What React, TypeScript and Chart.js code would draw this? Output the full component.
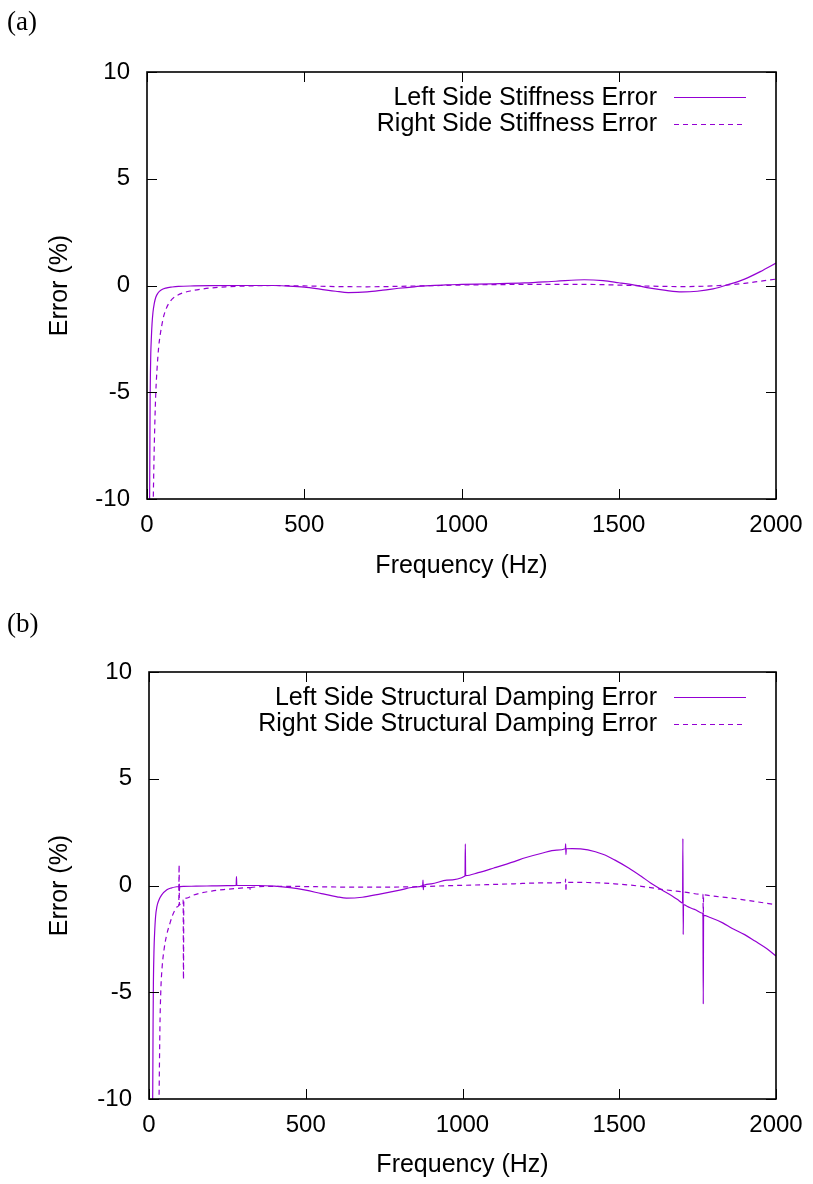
import React, { useEffect, useRef } from "react";
import { Chart, registerables } from "chart.js";

Chart.register(...registerables);

const PURPLE = "#9400d3";

// ---------- Panel (a): stiffness error ----------
const freqLeftStiff = [8, 9, 10, 11, 12, 14, 16, 19, 23, 28, 35, 45, 60, 80, 100, 150, 200, 300, 400, 450, 500, 550, 600, 640, 700, 750, 800, 850, 900, 950, 1000, 1100, 1200, 1300, 1390, 1450, 1500, 1550, 1600, 1650, 1700, 1750, 1800, 1850, 1900, 1950, 2000];
const errLeftStiff = [-11, -8, -5.2, -4.0, -3.2, -2.4, -1.8, -1.25, -0.85, -0.55, -0.35, -0.21, -0.12, -0.07, -0.04, -0.02, -0.01, 0.0, 0.0, -0.03, -0.08, -0.17, -0.27, -0.33, -0.3, -0.22, -0.13, -0.06, -0.01, 0.03, 0.05, 0.08, 0.12, 0.2, 0.27, 0.23, 0.13, 0.02, -0.12, -0.23, -0.3, -0.27, -0.16, 0.05, 0.3, 0.65, 1.05];

const freqRightStiff = [18, 20, 22, 25, 28, 32, 37, 42, 46, 52, 62, 75, 94, 120, 140, 168, 200, 250, 300, 350, 400, 500, 600, 700, 800, 900, 1000, 1100, 1200, 1300, 1400, 1500, 1600, 1700, 1800, 1850, 1900, 1950, 2000];
const errRightStiff = [-12, -10, -8.3, -6.4, -5.0, -3.9, -2.9, -2.3, -1.95, -1.5, -1.05, -0.72, -0.48, -0.32, -0.25, -0.18, -0.12, -0.06, -0.03, -0.01, 0.0, -0.02, -0.05, -0.06, -0.04, -0.01, 0.02, 0.04, 0.05, 0.05, 0.05, 0.02, -0.03, -0.05, -0.02, 0.03, 0.1, 0.2, 0.3];

// ---------- Panel (b): structural damping error ----------
const freqLeftDamp = [10, 11, 12, 13, 14, 16, 18, 21, 25, 32, 40, 57, 70, 88, 94, 95, 96, 97, 98, 110, 150, 200, 250, 278, 279, 280, 300, 350, 400, 450, 500, 550, 600, 630, 680, 740, 800, 850, 873, 874, 875, 876, 900, 950, 1008, 1009, 1010, 1050, 1100, 1165, 1200, 1250, 1300, 1328, 1329, 1330, 1331, 1350, 1400, 1450, 1485, 1530, 1571, 1600, 1635, 1670, 1690, 1702, 1703, 1704, 1705, 1720, 1740, 1766, 1767, 1768, 1769, 1790, 1830, 1859, 1900, 1933, 1970, 2000];
const errLeftDamp = [-13, -11, -9.5, -6.5, -4.6, -3.0, -2.2, -1.45, -1.0, -0.67, -0.45, -0.2, -0.12, -0.06, -0.05, -0.05, 0.05, -0.25, -0.05, -0.04, -0.03, -0.02, -0.01, 0, 0.42, 0, 0, 0, -0.03, -0.1, -0.22, -0.38, -0.53, -0.59, -0.55, -0.39, -0.22, -0.07, 0, 0.25, -0.2, 0.01, 0.08, 0.25, 0.44, 1.95, 0.46, 0.6, 0.82, 1.12, 1.3, 1.5, 1.66, 1.72, 1.95, 1.45, 1.72, 1.73, 1.67, 1.45, 1.2, 0.82, 0.42, 0.12, -0.2, -0.5, -0.7, -0.82, 2.2, -2.3, -0.9, -1.0, -1.12, -1.3, -1.35, -5.55, -1.4, -1.5, -1.75, -2.0, -2.3, -2.6, -2.95, -3.3];

const freqRightDamp = [28, 30, 32, 35, 38, 42, 48, 55, 67, 75, 83, 90, 95, 96, 97, 100, 105, 109, 110, 111, 120, 140, 163, 200, 238, 280, 322, 323, 324, 398, 450, 500, 600, 700, 800, 874, 950, 1009, 1100, 1165, 1250, 1328, 1329, 1330, 1331, 1400, 1485, 1571, 1635, 1704, 1766, 1767, 1768, 1769, 1800, 1859, 1933, 2000];
const errRightDamp = [-14, -12, -10, -6.5, -4.8, -3.8, -3.0, -2.4, -1.76, -1.4, -1.14, -1.0, -0.92, 0.97, -0.92, -0.85, -0.75, -0.68, -4.4, -0.66, -0.59, -0.46, -0.36, -0.26, -0.19, -0.14, -0.1, -0.25, -0.1, -0.04, -0.04, -0.05, -0.07, -0.08, -0.07, -0.05, -0.01, 0.01, 0.05, 0.08, 0.12, 0.15, 0.3, -0.28, 0.15, 0.14, 0.08, -0.04, -0.18, -0.3, -0.42, -0.43, -1.45, -0.44, -0.5, -0.59, -0.75, -0.9];

// ---------- Axis ticks ----------
const X_MIN = 0, X_MAX = 2000, X_STEP = 500;
const Y_MIN = -10, Y_MAX = 10, Y_STEP = 5;

const SANS = "'Liberation Sans', Arial, Helvetica, sans-serif";

const toPoints = (xs: number[], ys: number[]) => xs.map((x, i) => ({ x, y: ys[i] }));

const framePlugin = {
  id: "gnuFrame",
  afterDatasetsDraw(chart: any) {
    const { ctx, chartArea: a, scales } = chart;
    const xs = scales.x, ys = scales.y;
    ctx.save();
    ctx.strokeStyle = "#000";
    ctx.lineWidth = 1;
    const TL = 10;
    ctx.beginPath();
    xs.ticks.forEach((t: any) => {
      const px = Math.round(xs.getPixelForValue(t.value)) + 0.5;
      ctx.moveTo(px, a.bottom); ctx.lineTo(px, a.bottom - TL);
      ctx.moveTo(px, a.top); ctx.lineTo(px, a.top + TL);
    });
    ys.ticks.forEach((t: any) => {
      const py = Math.round(ys.getPixelForValue(t.value)) + 0.5;
      ctx.moveTo(a.left, py); ctx.lineTo(a.left + TL, py);
      ctx.moveTo(a.right, py); ctx.lineTo(a.right - TL, py);
    });
    ctx.stroke();
    ctx.lineWidth = 1.6;
    ctx.strokeRect(a.left, a.top, a.right - a.left, a.bottom - a.top);

    // in-plot legend (top right)
    ctx.font = `25px ${SANS}`;
    ctx.fillStyle = "#000";
    ctx.textAlign = "right";
    ctx.textBaseline = "middle";
    chart.data.datasets.forEach((ds: any, i: number) => {
      const y = a.top + 25 + i * 26.5;
      ctx.fillText(ds.label, a.right - 119, y + 1);
      ctx.save();
      ctx.strokeStyle = ds.borderColor;
      ctx.lineWidth = ds.borderWidth;
      ctx.setLineDash(ds.borderDash || []);
      ctx.beginPath();
      ctx.moveTo(a.right - 102, Math.round(y) + 0.5);
      ctx.lineTo(a.right - 30, Math.round(y) + 0.5);
      ctx.stroke();
      ctx.restore();
    });
    ctx.restore();
  },
};

type PanelProps = {
  labels: [string, string];
  solid: { x: number[]; y: number[] };
  dashed: { x: number[]; y: number[] };
  height: number;
  yAxisWidth: number;
  xTitlePad: number;
};

function Panel({ labels, solid, dashed, height, yAxisWidth, xTitlePad }: PanelProps) {
  const ref = useRef<HTMLCanvasElement>(null);
  useEffect(() => {
    if (!ref.current) return;
    const chart = new Chart(ref.current, {
      type: "line",
      data: {
        datasets: [
          {
            label: labels[0],
            data: toPoints(solid.x, solid.y),
            borderColor: PURPLE,
            borderWidth: 1.2,
            pointRadius: 0,
            fill: false,
            cubicInterpolationMode: "monotone",
          },
          {
            label: labels[1],
            data: toPoints(dashed.x, dashed.y),
            borderColor: PURPLE,
            borderWidth: 1.2,
            borderDash: [5, 4],
            pointRadius: 0,
            fill: false,
            cubicInterpolationMode: "monotone",
          },
        ],
      } as any,
      options: {
        responsive: false,
        animation: false,
        devicePixelRatio: 1,
        layout: { padding: { left: 0, top: 72, right: 37, bottom: 0 } },
        plugins: { legend: { display: false }, tooltip: { enabled: false } },
        scales: {
          x: {
            type: "linear",
            min: X_MIN,
            max: X_MAX,
            grid: { display: false, drawTicks: false },
            border: { display: false },
            ticks: {
              stepSize: X_STEP,
              autoSkip: false,
              maxRotation: 0,
              padding: 12,
              color: "#000",
              font: { family: SANS, size: 24 },
              callback: (v: any) => String(v),
            },
            title: {
              display: true,
              text: "Frequency (Hz)",
              color: "#000",
              font: { family: SANS, size: 25 },
              padding: { top: 0, bottom: xTitlePad },
            },
            afterFit: (s: any) => {
              s.height = height - 499;
              s.paddingLeft = 0;
              s.paddingRight = 0;
            },
          },
          y: {
            type: "linear",
            min: Y_MIN,
            max: Y_MAX,
            grid: { display: false, drawTicks: false },
            border: { display: false },
            ticks: {
              stepSize: Y_STEP,
              autoSkip: false,
              padding: 17,
              color: "#000",
              font: { family: SANS, size: 24 },
              callback: (v: any) => String(v),
            },
            title: {
              display: true,
              text: "Error (%)",
              color: "#000",
              font: { family: SANS, size: 25 },
              padding: { top: 45, bottom: 0 },
            },
            afterFit: (s: any) => {
              s.width = yAxisWidth;
              s.paddingTop = 0;
              s.paddingBottom = 0;
            },
          },
        },
      } as any,
      plugins: [framePlugin],
    });
    return () => chart.destroy();
  }, []);
  return <canvas ref={ref} width={813} height={height} style={{ width: 813, height, display: "block" }} />;
}

const panelLabel: React.CSSProperties = {
  position: "absolute",
  left: 7,
  fontFamily: "'Liberation Serif', 'Times New Roman', serif",
  fontSize: 27,
  lineHeight: "27px",
  color: "#000",
};

export default function App() {
  return (
    <div style={{ position: "absolute", left: 0, top: 0, width: 813, height: 1184, background: "#fff", overflow: "hidden" }}>
      <div style={{ position: "absolute", left: 0, top: 0 }}>
        <Panel
          labels={["Left Side Stiffness Error", "Right Side Stiffness Error"]}
          solid={{ x: freqLeftStiff, y: errLeftStiff }}
          dashed={{ x: freqRightStiff, y: errRightStiff }}
          height={600}
          yAxisWidth={147}
          xTitlePad={19}
        />
      </div>
      <div style={{ position: "absolute", left: 0, top: 600 }}>
        <Panel
          labels={["Left Side Structural Damping Error", "Right Side Structural Damping Error"]}
          solid={{ x: freqLeftDamp, y: errLeftDamp }}
          dashed={{ x: freqRightDamp, y: errRightDamp }}
          height={584}
          yAxisWidth={149}
          xTitlePad={4}
        />
      </div>
      <div style={{ ...panelLabel, top: 8 }}>(a)</div>
      <div style={{ ...panelLabel, top: 610 }}>(b)</div>
    </div>
  );
}
